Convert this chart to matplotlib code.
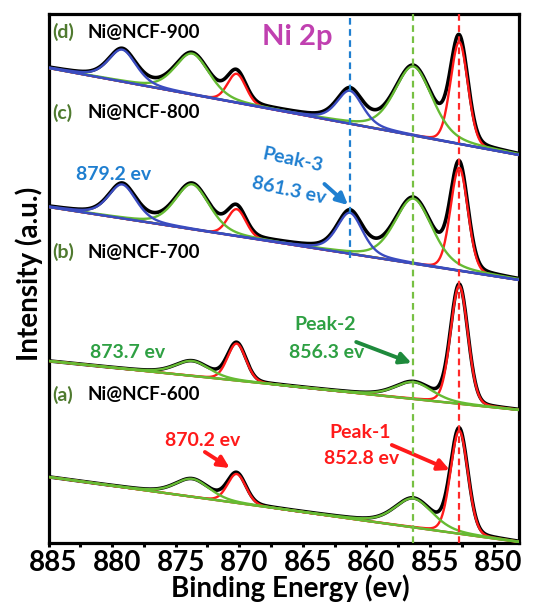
import numpy as np
import matplotlib
matplotlib.use('Agg')
import matplotlib.pyplot as plt
import matplotlib.transforms as mtransforms

plt.rcParams['font.family'] = ['Lato', 'DejaVu Sans']
plt.rcParams['font.weight'] = 'bold'

# samples, bottom to top
letters = ['(a)', '(b)', '(c)', '(d)']
samples = ['Ni@NCF-600', 'Ni@NCF-700', 'Ni@NCF-800', 'Ni@NCF-900']

# linear background (a.u.) at 885 eV and at 848 eV
base_hi = [66, 182, 336, 475]
base_lo = [1, 133, 263, 388]
base_color = ['#66bb33', '#66bb33', '#3b4cc0', '#3b4cc0']

# fitted components
centers = [879.2, 873.7, 870.2, 861.3, 856.3, 852.7]
fwhm = [2.6, 3.2, 1.7, 2.4, 3.5, 1.6]
mix = [0.4, 0.35, 0.1, 0.4, 0.35, 0.1]
comp_color = ['#3b4cc0', '#66bb33', '#ff1a1a', '#3b4cc0', '#66bb33', '#ff1a1a']
heights = [
    [0, 18, 29, 0, 29, 103],
    [0, 15, 37, 0, 17, 118],
    [34, 45, 27, 41, 65, 103],
    [32, 41, 29, 33, 69, 102],
]

# reference lines
peak_lines = [861.3, 856.3, 852.7]
line_colors = ['#1f7fd0', '#77c043', '#ff2a2a']
line_bottom = [285, 0, 0]


def pv(x, c, h, w, eta):
    g = np.exp(-4 * np.log(2) * ((x - c) / w) ** 2)
    l = 1 / (1 + 4 * ((x - c) / w) ** 2)
    return h * (eta * l + (1 - eta) * g)


fig = plt.figure(figsize=(5.36, 6.04), dpi=100)
ax = fig.add_axes([48.5 / 536, 61 / 604, 470.5 / 536, 529 / 604])

E = np.linspace(885, 848, 1200)

for i in range(len(samples)):
    bg = base_hi[i] + (base_lo[i] - base_hi[i]) * (885 - E) / 37.0
    total = bg.copy()
    for k in range(len(centers)):
        if heights[i][k] > 0:
            total += pv(E, centers[k], heights[i][k], fwhm[k], mix[k])
    ax.plot(E, total, color='black', lw=2.6, zorder=3)
    for k in [2, 5, 1, 4, 0, 3]:
        if heights[i][k] > 0:
            ax.plot(E, bg + pv(E, centers[k], heights[i][k], fwhm[k], mix[k]),
                    color=comp_color[k], lw=1.7, zorder=4)
    ax.plot(E, bg, color=base_color[i], lw=1.4, zorder=5)

for xv, c, yb in zip(peak_lines, line_colors, line_bottom):
    ax.plot([xv, xv], [yb, 529], color=c, lw=1.6, ls=(0, (3, 2)), zorder=6)

# sample labels
label_y = [148, 291, 430, 511]
for i in range(len(samples)):
    ax.text(884.7, label_y[i], letters[i], color='#4f7a2f', fontsize=14,
            va='center', ha='left', zorder=7)
    ax.text(881.95, label_y[i], samples[i], color='black', fontsize=13.5,
            va='center', ha='left', zorder=7)

ax.text(865.4, 498, 'Ni 2p', color='#c040b0', fontsize=21, ha='center',
        va='baseline')

# annotations
fs = 14
arrow = dict(arrowstyle='-|>', lw=2.8, mutation_scale=17, shrinkA=0, shrinkB=0)
ax.text(879.85, 368, '879.2 ev', color='#1f7fd0', fontsize=fs, ha='center', va='center')
ax.text(865.8, 383, 'Peak-3', color='#1f7fd0', fontsize=fs, ha='center', va='center',
        rotation=-12)
ax.text(866.1, 353, '861.3 ev', color='#1f7fd0', fontsize=fs, ha='center', va='center',
        rotation=-12)
ax.annotate('', xy=(861.45, 338), xytext=(863.3, 359),
            arrowprops=dict(arrow, color='#1f7fd0'))

ax.text(878.8, 191, '873.7 ev', color='#2ea043', fontsize=fs, ha='center', va='center')
ax.text(863.25, 218, 'Peak-2', color='#2ea043', fontsize=fs, ha='center', va='center')
ax.text(863.1, 190, '856.3 ev', color='#2ea043', fontsize=fs, ha='center', va='center')
ax.annotate('', xy=(856.45, 180), xytext=(860.8, 201),
            arrowprops=dict(arrow, color='#1e8a3c'))

ax.text(872.85, 103, '870.2 ev', color='#ff1a1a', fontsize=fs, ha='center', va='center')
ax.annotate('', xy=(870.75, 75), xytext=(872.7, 91),
            arrowprops=dict(arrow, color='#ff1a1a'))
ax.text(860.5, 111, 'Peak-1', color='#ff1a1a', fontsize=fs, ha='center', va='center')
ax.text(860.35, 85, '852.8 ev', color='#ff1a1a', fontsize=fs, ha='center', va='center')
ax.annotate('', xy=(853.45, 73), xytext=(858.0, 98),
            arrowprops=dict(arrow, color='#ff1a1a'))

ax.set_xlim(885, 848)
ax.set_ylim(0, 529)
ax.set_xticks(np.arange(885, 849, -5))
ax.set_xticks(np.arange(882.5, 849, -5), minor=True)
ax.set_yticks([])
ax.tick_params(axis='x', which='both', direction='out', length=3, width=2.2,
               labelsize=20, pad=2)
shift = mtransforms.ScaledTranslation(5 / 100, 0, fig.dpi_scale_trans)
for lab in ax.get_xticklabels():
    lab.set_transform(lab.get_transform() + shift)
for s in ax.spines.values():
    s.set_linewidth(2.3)

ax.set_xlabel('Binding Energy (ev)', fontsize=20, fontweight='bold', va='top')
ax.xaxis.set_label_coords(0.513, -0.06)
ax.set_ylabel('Intensity (a.u.)', fontsize=20, fontweight='bold')
ax.yaxis.set_label_coords(-0.012, 0.509)

fig.savefig('out.png', dpi=100)
